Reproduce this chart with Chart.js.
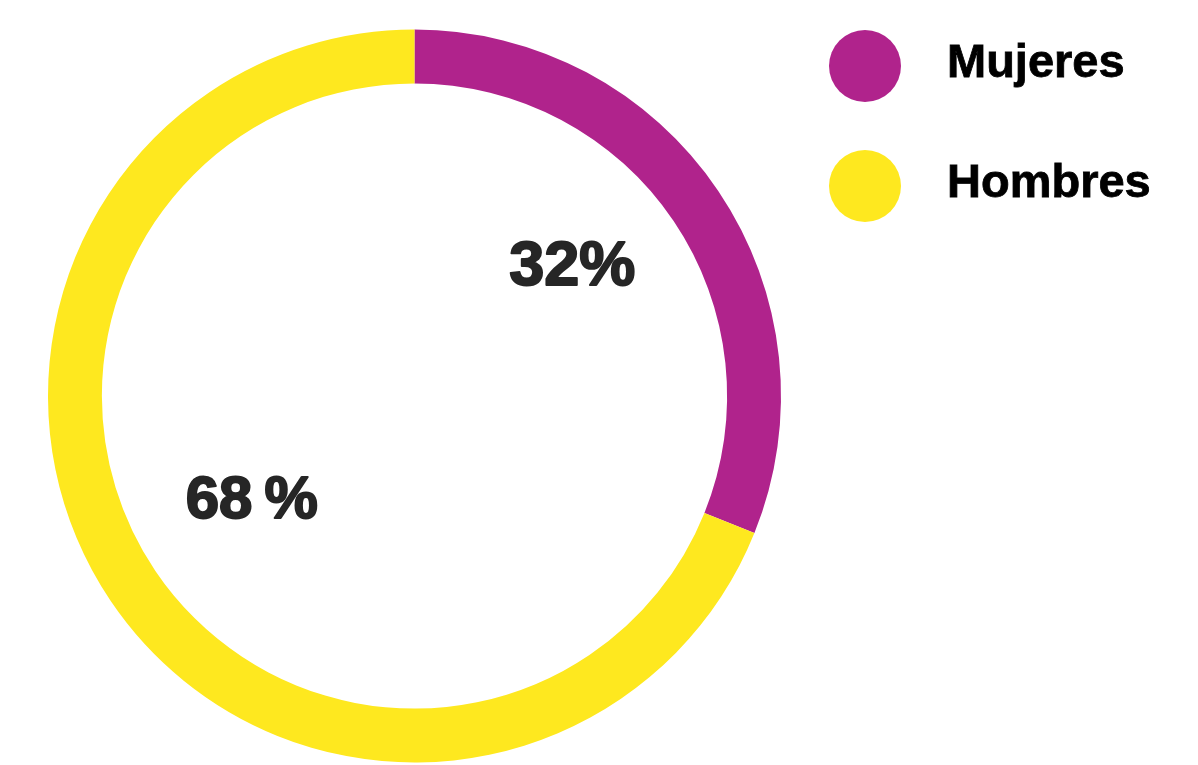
<!DOCTYPE html>
<html>
<head>
<meta charset="utf-8">
<script src="https://cdn.jsdelivr.net/npm/chart.js@4"></script>
<style>
html,body{margin:0;padding:0;background:#fff;}
#wrap{position:relative;width:1198px;height:765px;}
</style>
</head>
<body>
<div id="wrap"><canvas id="c" width="1198" height="765"></canvas></div>
<script>
const categories = ['Mujeres', 'Hombres'];
const values = [31.1, 68.9];
const valueLabels = ['32%', '68\u2009%'];
const colors = ['#B0238C', '#FEE81F'];

const FONT = '"Liberation Sans", Arial, Helvetica, sans-serif';
const labelStyle = [
  {r: 200, dx: -8, dy: -22, size: 63},
  {r: 200, dx: 3, dy: -11, size: 60}
];

const valueLabelPlugin = {
  id: 'valueLabels',
  afterDatasetsDraw(chart) {
    const ctx = chart.ctx;
    const meta = chart.getDatasetMeta(0);
    meta.data.forEach((arc, i) => {
      const p = arc.getProps(['x', 'y', 'startAngle', 'endAngle'], true);
      const mid = (p.startAngle + p.endAngle) / 2;
      const s = labelStyle[i];
      const x = p.x + Math.cos(mid) * s.r + s.dx;
      const y = p.y + Math.sin(mid) * s.r + s.dy;
      ctx.save();
      ctx.font = 'bold ' + s.size + 'px ' + FONT;
      ctx.fillStyle = '#262626';
      ctx.strokeStyle = '#262626';
      ctx.lineWidth = 2;
      ctx.lineJoin = 'round';
      ctx.textAlign = 'center';
      ctx.textBaseline = 'alphabetic';
      const by = y + s.size * 0.358;
      ctx.strokeText(valueLabels[i], x, by);
      ctx.fillText(valueLabels[i], x, by);
      ctx.restore();
    });
  }
};

const legendPlugin = {
  id: 'sideLegend',
  afterDraw(chart) {
    const ctx = chart.ctx;
    categories.forEach((name, i) => {
      const cy = 66 + i * 120;
      ctx.save();
      ctx.beginPath();
      ctx.arc(865, cy, 36, 0, Math.PI * 2);
      ctx.fillStyle = colors[i];
      ctx.fill();
      ctx.font = 'bold 47px ' + FONT;
      ctx.fillStyle = '#000';
      ctx.strokeStyle = '#000';
      ctx.lineWidth = 0.8;
      ctx.textAlign = 'left';
      ctx.textBaseline = 'alphabetic';
      ctx.strokeText(name, 947, cy + 11);
      ctx.fillText(name, 947, cy + 11);
      ctx.restore();
    });
  }
};

new Chart(document.getElementById('c'), {
  type: 'doughnut',
  data: {
    labels: categories,
    datasets: [{
      data: values,
      backgroundColor: colors,
      borderWidth: 0,
      hoverOffset: 0
    }]
  },
  options: {
    responsive: false,
    animation: false,
    cutout: '85.3%',
    layout: {padding: {left: 48, top: 29.5, bottom: 2.5, right: 417}},
    plugins: {
      legend: {display: false},
      tooltip: {enabled: false}
    }
  },
  plugins: [valueLabelPlugin, legendPlugin]
});
</script>
</body>
</html>
